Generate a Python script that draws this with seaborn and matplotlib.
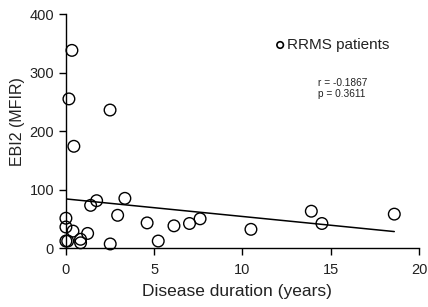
import numpy as np
import pandas as pd
import matplotlib
matplotlib.use("Agg")
import matplotlib.pyplot as plt
import seaborn as sns

# values
duration = [0.34, 0.17, 0.45, 2.5, 0.0, 0.0, 0.0, 0.1, 0.4, 0.83, 0.83, 1.23, 1.4,
            1.74, 2.51, 2.93, 3.34, 4.6, 5.23, 6.12, 7.0, 7.6, 10.48, 13.9, 14.5, 18.6]
ebi2 = [338, 255, 174, 236, 51, 36, 12, 12, 29, 15, 9, 25, 73,
        81, 7, 56, 85, 43, 12, 38, 42, 50, 32, 63, 42, 58]
fit_intercept = 84.0
fit_slope = -3.0

df = pd.DataFrame({"duration": duration, "ebi2": ebi2})

sns.set_theme(style="ticks")
plt.rcParams["font.family"] = ["Liberation Sans", "DejaVu Sans"]

fig = plt.figure(figsize=(4.28, 3.07), dpi=100)
ax = fig.add_axes([0.154, 0.192, 0.825, 0.762])

sns.scatterplot(data=df, x="duration", y="ebi2", ax=ax, s=70, marker="o",
                facecolor="none", edgecolor="black", linewidth=1.0,
                clip_on=False, zorder=3, legend=False)

xs = np.array([0, max(duration)])
ax.plot(xs, fit_intercept + fit_slope * xs, color="black", lw=1.1)

ax.set_xlim(0, 20)
ax.set_ylim(0, 400)
ax.set_xticks([0, 5, 10, 15, 20])
ax.set_yticks([0, 100, 200, 300, 400])
ax.tick_params(labelsize=10.5, length=5, width=1, color="black", labelcolor="#222222")
ax.tick_params(axis="x", pad=5.5)
ax.set_xlabel("Disease duration (years)", fontsize=12.5, color="#222222", labelpad=5)
ax.xaxis.label.set_x(0.483)
ax.set_ylabel("EBI2 (MFIR)", fontsize=11.5, color="#222222")
ax.yaxis.set_label_coords(-0.116, 0.54)
sns.despine(ax=ax)
for sp in ("left", "bottom"):
    ax.spines[sp].set_color("black")
    ax.spines[sp].set_linewidth(1.0)

ax.scatter([], [], s=22, marker="o", facecolor="none", edgecolor="black",
           linewidth=1.2, label="RRMS patients")
ax.legend(loc="center left", bbox_to_anchor=(0.57, 0.868), frameon=False,
          fontsize=11, handletextpad=0.0, handlelength=0.9, borderaxespad=0,
          labelcolor="#222222")

ax.text(0.715, 0.725, "r = -0.1867\np = 0.3611", transform=ax.transAxes,
        fontsize=7.3, va="top", ha="left", color="#222222", linespacing=1.05)

fig.savefig("out.png", dpi=100)
